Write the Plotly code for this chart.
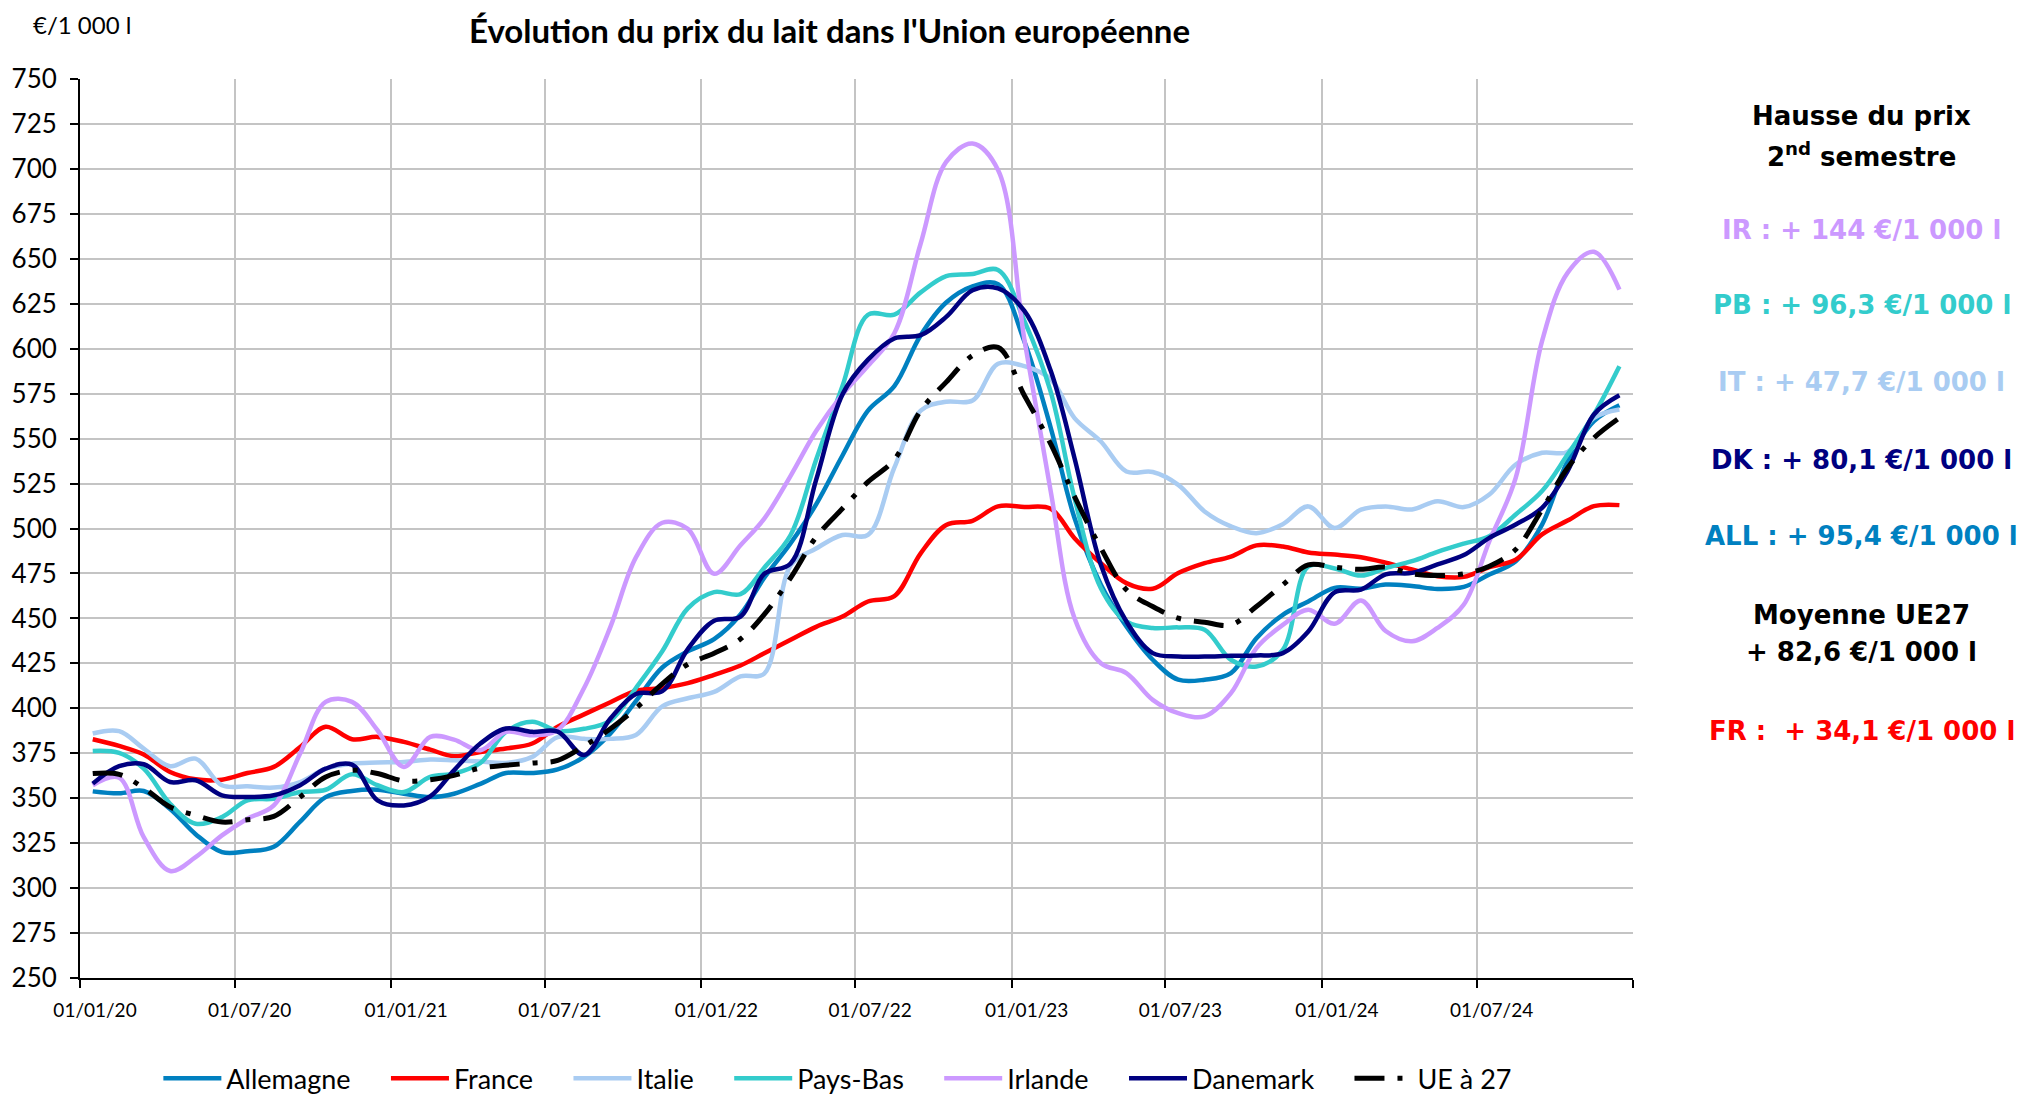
import pandas as pd
import plotly.graph_objects as go

# Monthly milk prices (EUR / 1 000 l), Jan 2020 .. Dec 2024
months = pd.date_range("2020-01-01", "2024-12-01", freq="MS") + pd.Timedelta(days=15)

allemagne = [353.8, 352.7, 354.0, 344.0, 330.0, 320.0, 320.5, 323.0, 337.0, 350.6,
             354.0, 354.7, 352.5, 350.6, 352.5, 358.0, 364.0, 364.0, 366.0, 373.0,
             386.0, 404.0, 422.7, 431.7, 438.5, 452.2, 472.6, 491.8, 513.4, 540.6,
             565.6, 579.2, 607.5, 625.7, 634.7, 635.9, 604.0, 556.0, 505.8, 468.7,
             445.5, 427.0, 415.9, 415.9, 419.6, 439.0, 452.0, 459.4, 467.0, 466.5,
             468.8, 468.0, 466.4, 467.5, 474.4, 481.8, 502.2, 537.4, 559.7, 568.6]
france = [382.8, 379.1, 374.3, 364.6, 360.5, 360.3, 364.0, 367.4, 378.5, 389.7,
          382.8, 384.1, 381.3, 377.0, 373.3, 375.7, 377.6, 380.4, 389.8, 396.6,
          403.4, 409.7, 411.3, 414.0, 418.6, 423.8, 430.6, 438.1, 445.3, 451.0,
          459.4, 462.4, 486.2, 502.0, 504.3, 512.3, 512.0, 511.0, 494.6, 480.7,
          469.6, 466.5, 475.2, 480.7, 484.4, 490.6, 490.0, 486.7, 485.5, 484.0,
          481.0, 477.2, 473.5, 473.1, 478.5, 482.7, 496.7, 504.4, 512.4, 513.0]
italie = [386.0, 387.3, 377.6, 367.8, 372.0, 357.2, 356.6, 355.9, 359.0, 366.4,
          369.2, 369.8, 370.2, 371.5, 371.1, 370.4, 369.6, 373.0, 384.0, 383.0,
          383.0, 385.2, 401.1, 405.6, 409.1, 417.7, 419.3, 479.4, 488.9, 496.4,
          496.4, 533.8, 565.6, 570.5, 571.2, 591.6, 590.3, 583.0, 561.4, 548.4,
          531.7, 531.4, 524.3, 509.5, 501.2, 497.4, 502.4, 512.3, 500.3, 510.5,
          512.3, 510.6, 515.2, 511.9, 518.9, 535.6, 542.1, 542.6, 561.5, 566.2]
pays_bas = [376.3, 375.2, 366.4, 346.9, 335.8, 339.5, 348.8, 349.7, 353.4, 354.7,
            363.3, 357.2, 353.4, 361.8, 363.7, 369.6, 386.9, 392.5, 387.5, 388.6,
            393.2, 411.3, 431.7, 455.6, 464.6, 463.5, 478.2, 496.4, 538.3, 579.2,
            618.9, 618.9, 631.3, 640.4, 641.5, 643.8, 615.5, 576.0, 516.9, 466.8,
            448.3, 444.6, 445.0, 443.7, 427.0, 423.3, 432.5, 478.9, 477.8, 473.8,
            478.0, 481.8, 487.0, 491.6, 495.7, 507.8, 520.8, 541.1, 563.4, 590.3]
irlande = [357.2, 361.4, 328.3, 309.5, 317.2, 329.3, 338.6, 346.0, 374.8, 403.6,
           403.6, 387.8, 367.4, 384.1, 382.6, 376.7, 386.9, 385.0, 388.0, 411.3,
           445.3, 483.9, 503.2, 499.8, 474.8, 490.7, 505.5, 529.3, 554.2, 574.6,
           590.5, 608.6, 658.5, 703.9, 714.1, 699.4, 605.0, 520.6, 450.1, 425.1,
           419.6, 404.7, 397.3, 395.5, 408.4, 433.5, 446.4, 454.8, 447.0, 460.0,
           443.0, 437.3, 444.7, 457.7, 492.9, 528.2, 604.2, 642.2, 653.9, 632.9]
danemark = [358.1, 367.8, 368.9, 359.0, 360.0, 351.6, 350.7, 351.6, 357.2, 366.4,
            368.7, 348.8, 346.0, 351.0, 365.5, 380.4, 388.8, 386.9, 387.0, 374.0,
            394.3, 408.0, 409.5, 432.9, 448.7, 451.0, 474.8, 480.5, 527.0, 574.6,
            593.9, 605.7, 607.5, 617.7, 632.5, 633.6, 621.0, 587.7, 539.1, 479.8,
            448.3, 430.7, 428.8, 428.8, 429.2, 429.4, 430.7, 442.7, 464.5, 466.0,
            474.5, 475.3, 480.0, 485.2, 494.8, 502.2, 511.5, 531.9, 563.4, 574.1]
ue27 = [363.7, 363.3, 355.7, 345.1, 340.5, 336.7, 338.0, 339.9, 350.7, 361.8,
        365.5, 363.7, 359.6, 360.3, 362.7, 366.8, 368.3, 369.6, 371.0, 379.0,
        388.6, 400.0, 413.6, 424.5, 430.6, 438.5, 452.2, 472.6, 495.2, 511.1,
        525.9, 538.3, 565.6, 581.4, 596.2, 600.7, 574.0, 547.0, 517.8, 489.1,
        465.9, 456.6, 450.1, 447.9, 446.4, 456.6, 468.7, 479.8, 478.4, 477.3,
        478.5, 474.8, 473.9, 474.8, 479.0, 488.3, 510.6, 533.7, 550.4, 561.5]

series_names = ["Allemagne", "France", "Italie", "Pays-Bas", "Irlande", "Danemark", "UE à 27"]
series_values = [allemagne, france, italie, pays_bas, irlande, danemark, ue27]
series_colors = ["#0080C0", "#FF0000", "#A9CCF2", "#33CCCC", "#CC99FF", "#000080", "#000000"]

x_tickvals = ["2020-01-01", "2020-07-01", "2021-01-01", "2021-07-01", "2022-01-01",
              "2022-07-01", "2023-01-01", "2023-07-01", "2024-01-01", "2024-07-01", "2025-01-01"]
x_ticktext = ["01/01/20", "01/07/20", "01/01/21", "01/07/21", "01/01/22",
              "01/07/22", "01/01/23", "01/07/23", "01/01/24", "01/07/24", " "]
y_tickvals = list(range(250, 751, 25))

side_texts = [
    ("Hausse du prix", "#000000"),
    ("2<sup>nd</sup> semestre", "#000000"),
    ("IR : + 144 €/1 000 l", "#CC99FF"),
    ("PB : + 96,3 €/1 000 l", "#33CCCC"),
    ("IT : + 47,7 €/1 000 l", "#A9CCF2"),
    ("DK : + 80,1 €/1 000 l", "#000080"),
    ("ALL : + 95,4 €/1 000 l", "#0080C0"),
    ("Moyenne UE27", "#000000"),
    ("+ 82,6 €/1 000 l", "#000000"),
    ("FR :  + 34,1 €/1 000 l", "#FF0000"),
]
side_y = [116, 155, 230, 305, 382, 460, 536, 615, 652, 731]

W, H = 2026, 1095
ML, MR, MT, MB = 80, 393, 79, 117

fig = go.Figure()
for name, vals, col in zip(series_names, series_values, series_colors):
    is_ue = name == "UE à 27"
    fig.add_trace(go.Scatter(
        x=months, y=vals, mode="lines",
        name=name if is_ue else name + "\u2002\u2002\u2009",
        line=dict(color=col, width=5 if is_ue else 4.5,
                  shape="spline", smoothing=1.0,
                  dash="30px,13px,5px,13px" if is_ue else "solid"),
    ))

fig.update_xaxes(
    type="date", range=["2020-01-01", "2025-01-01"],
    tickmode="array", tickvals=x_tickvals, ticktext=x_ticktext,
    showgrid=True, gridcolor="#C4C4C4", gridwidth=1.5,
    showline=True, linecolor="#000000", linewidth=2,
    ticks="outside", ticklen=8, tickwidth=2, tickcolor="#000000",
    tickfont=dict(family="Lato, Liberation Sans, sans-serif", size=19, color="#000000"),
    ticklabelshift=15, ticklabelstandoff=6,
    zeroline=False,
)
fig.update_yaxes(
    range=[250, 750], tickmode="array", tickvals=y_tickvals,
    showgrid=True, gridcolor="#C4C4C4", gridwidth=2,
    showline=True, linecolor="#000000", linewidth=2,
    ticks="outside", ticklen=8, tickwidth=2, tickcolor="#000000",
    tickfont=dict(family="Lato, Liberation Sans, sans-serif", size=26, color="#000000"),
    ticklabelstandoff=8, zeroline=False,
)

annotations = [
    dict(text="Évolution du prix du lait dans l'Union européenne", x=829, y=30,
         font=dict(family="Lato, sans-serif", size=33, color="#000000", weight="bold")),
    dict(text="€/1 000 l", x=82, y=24,
         font=dict(family="Lato, sans-serif", size=24, color="#000000")),
]
for (txt, col), yy in zip(side_texts, side_y):
    annotations.append(dict(text=txt, x=1862, y=yy,
                            font=dict(family="DejaVu Sans, sans-serif", size=26, color=col, weight="bold")))
for a in annotations:
    a.update(xref="paper", yref="paper", showarrow=False, xanchor="center", yanchor="middle")
    a["x"] = (a["x"] - ML) / (W - ML - MR)
    a["y"] = 1 - (a["y"] - MT) / (H - MT - MB)

fig.update_layout(
    width=W, height=H,
    margin=dict(l=ML, r=MR, t=MT, b=MB, autoexpand=False),
    paper_bgcolor="#FFFFFF", plot_bgcolor="#FFFFFF",
    showlegend=True,
    legend=dict(orientation="h", x=0.488, xanchor="center", y=-0.112, yanchor="middle",
                font=dict(family="Lato, sans-serif", size=27, color="#000000"),
                itemwidth=58, tracegroupgap=0, bgcolor="rgba(0,0,0,0)"),
    annotations=annotations,
)

fig.write_html("out.html", config={"displayModeBar": False},
               post_script="document.body.style.margin='0';document.body.style.overflow='hidden';")
